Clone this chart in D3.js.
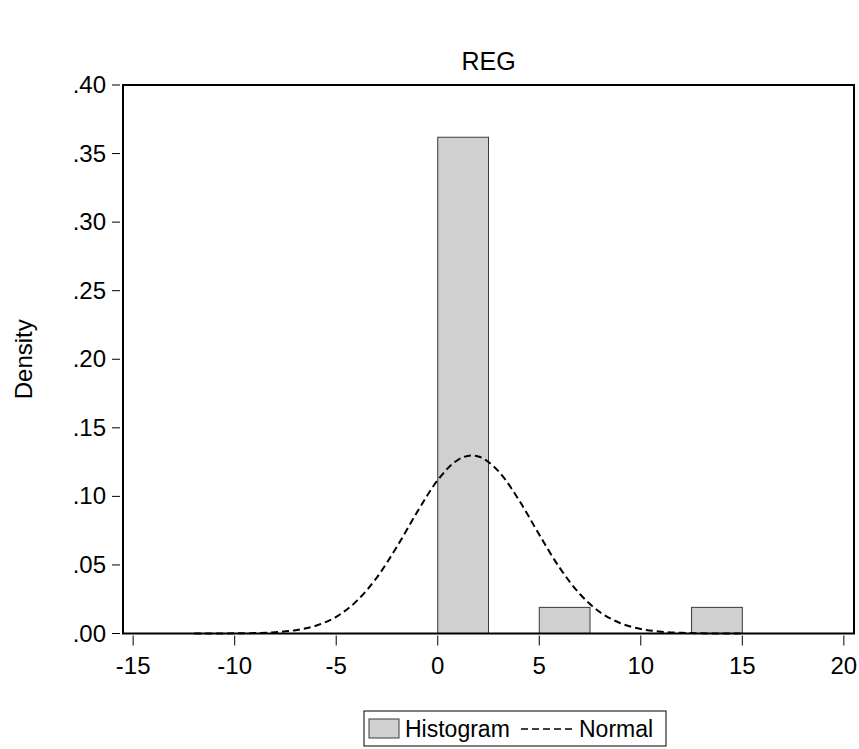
<!DOCTYPE html>
<html>
<head>
<meta charset="utf-8">
<script src="https://cdn.jsdelivr.net/npm/d3@7"></script>
<style>
  body { margin: 0; background: #fff; }
  text { font-family: "Liberation Sans", Arial, sans-serif; fill: #000; }
</style>
</head>
<body>
<svg id="canvas" width="859" height="749"></svg>
<script>
// histogram bins (start, end) and density
let binStarts = [0, 5, 12.5];
let binEnds = [2.5, 7.5, 15];
let binDensity = [0.3619, 0.01905, 0.01905];

// normal curve
let normalX = [-12, -11, -10, -9, -8, -7, -6, -5, -4, -3, -2, -1, 0, 1, 1.67, 2, 3, 4, 5, 6, 7, 8, 9, 10, 11, 12, 13, 14, 15];
let normalY = [0.0000, 0.0000, 0.0001, 0.0003, 0.0009, 0.0024, 0.0057, 0.0122, 0.0236, 0.0408, 0.0636, 0.0889, 0.1119, 0.1267, 0.1298, 0.1291, 0.1182, 0.0973, 0.0721, 0.0480, 0.0288, 0.0155, 0.0075, 0.0033, 0.0013, 0.0005, 0.0001, 0.0000, 0.0000];

let xTicks = [-15, -10, -5, 0, 5, 10, 15, 20];
let yTicks = [0, 0.05, 0.10, 0.15, 0.20, 0.25, 0.30, 0.35, 0.40];

let svg = d3.select('#canvas');

let plotLeft = 123, plotRight = 854, plotTop = 85, plotBottom = 633.5;

let x = d3.scaleLinear().domain([-15.5, 20.5]).range([plotLeft, plotRight]);
let y = d3.scaleLinear().domain([0, 0.40]).range([plotBottom, plotTop]);

// title
svg.append('text')
	.attr('x', (plotLeft + plotRight) / 2)
	.attr('y', 70)
	.attr('text-anchor', 'middle')
	.style('font-size', '25px')
	.text('REG');

// y axis label
svg.append('text')
	.attr('transform', `translate(32, ${(plotTop + plotBottom) / 2}) rotate(-90)`)
	.attr('text-anchor', 'middle')
	.style('font-size', '24px')
	.text('Density');

// bars
let bins = binStarts.map((s, i) => ({ x0: s, x1: binEnds[i], d: binDensity[i] }));
svg.selectAll('rect.bar')
	.data(bins)
	.enter()
	.append('rect')
	.attr('class', 'bar')
	.attr('x', (b) => x(b.x0))
	.attr('y', (b) => y(b.d))
	.attr('width', (b) => x(b.x1) - x(b.x0))
	.attr('height', (b) => y(0) - y(b.d))
	.attr('fill', '#d0d0d0')
	.attr('stroke', '#3a3a3a')
	.attr('stroke-width', 1);

// normal curve
let line = d3.line()
	.x((d) => x(d[0]))
	.y((d) => y(d[1]))
	.curve(d3.curveMonotoneX);
svg.append('path')
	.datum(normalX.map((v, i) => [v, normalY[i]]))
	.attr('d', line)
	.attr('fill', 'none')
	.attr('stroke', '#000')
	.attr('stroke-width', 2)
	.attr('stroke-dasharray', '7,4');

// frame
svg.append('rect')
	.attr('x', plotLeft)
	.attr('y', plotTop)
	.attr('width', plotRight - plotLeft)
	.attr('height', plotBottom - plotTop)
	.attr('fill', 'none')
	.attr('stroke', '#000')
	.attr('stroke-width', 2);

// y ticks
let yTickFmt = (v) => d3.format('.2f')(v).replace(/^0/, '');
svg.selectAll('line.yt')
	.data(yTicks)
	.enter()
	.append('line')
	.attr('x1', plotLeft - 11)
	.attr('x2', plotLeft - 3)
	.attr('y1', (v) => y(v))
	.attr('y2', (v) => y(v))
	.attr('stroke', '#000');
svg.selectAll('text.yl')
	.data(yTicks)
	.enter()
	.append('text')
	.attr('x', plotLeft - 17)
	.attr('y', (v) => y(v) + 8)
	.attr('text-anchor', 'end')
	.style('font-size', '24px')
	.text(yTickFmt);

// x ticks
svg.selectAll('line.xt')
	.data(xTicks)
	.enter()
	.append('line')
	.attr('x1', (v) => x(v))
	.attr('x2', (v) => x(v))
	.attr('y1', plotBottom + 2)
	.attr('y2', plotBottom + 12)
	.attr('stroke', '#000');
svg.selectAll('text.xl')
	.data(xTicks)
	.enter()
	.append('text')
	.attr('x', (v) => x(v))
	.attr('y', plotBottom + 40)
	.attr('text-anchor', 'middle')
	.style('font-size', '24px')
	.text((v) => v);

// legend
let lg = svg.append('g').attr('transform', 'translate(364, 711)');
lg.append('rect')
	.attr('width', 302)
	.attr('height', 35)
	.attr('fill', '#fff')
	.attr('stroke', '#000')
	.attr('stroke-width', 1);
lg.append('rect')
	.attr('x', 5)
	.attr('y', 8)
	.attr('width', 30)
	.attr('height', 19)
	.attr('fill', '#d0d0d0')
	.attr('stroke', '#3a3a3a');
lg.append('text')
	.attr('x', 41)
	.attr('y', 26)
	.style('font-size', '23px')
	.text('Histogram');
lg.append('line')
	.attr('x1', 157)
	.attr('x2', 208)
	.attr('y1', 18)
	.attr('y2', 18)
	.attr('stroke', '#000')
	.attr('stroke-width', 1.5)
	.attr('stroke-dasharray', '7,4');
lg.append('text')
	.attr('x', 215)
	.attr('y', 26)
	.style('font-size', '23px')
	.text('Normal');
</script>
</body>
</html>
